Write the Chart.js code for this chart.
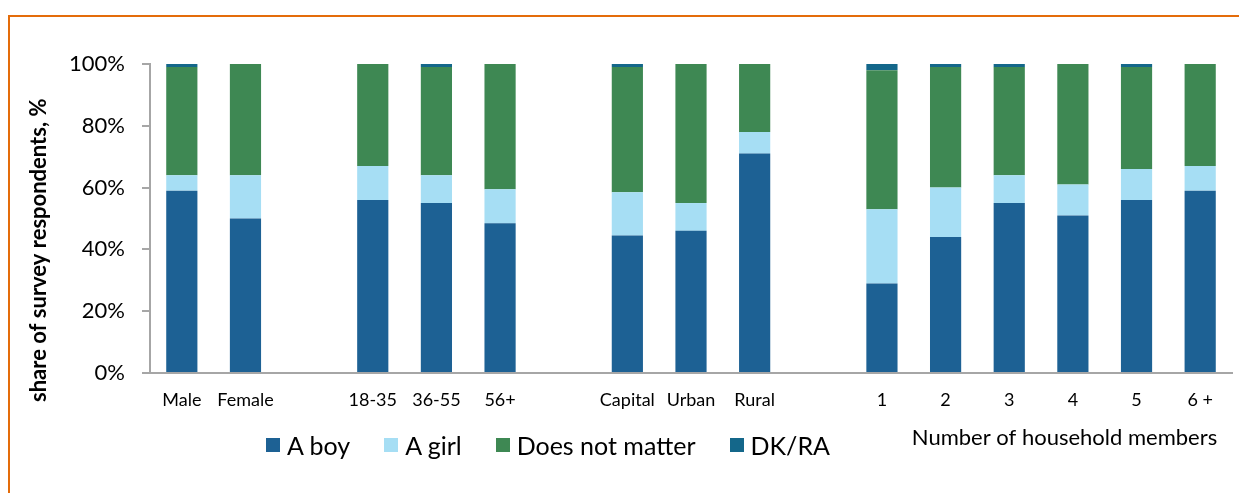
<!DOCTYPE html>
<html>
<head>
<meta charset="utf-8">
<script src="https://cdn.jsdelivr.net/npm/chart.js@4.4.1/dist/chart.umd.min.js"></script>
<style>
    body { margin: 0; background: #fff; font-family: Lato, sans-serif; }
    #frame {
        position: absolute; left: 8px; top: 15px; width: 1229px; height: 476px;
        border-top: 2px solid #E46C0A; border-left: 2px solid #E46C0A;
    }
    #legend {
        position: absolute; left: 266px; top: 430px; display: flex; align-items: center;
        font-size: 25px; color: #000;
    }
    #legend .item { display: flex; align-items: center; margin-right: 34px; }
    #legend .box { width: 14px; height: 14px; margin-right: 7px; }
</style>
</head>
<body>
<div id="frame"><canvas id="chart" width="1229" height="476"></canvas></div>
<div id="legend"></div>
<script>
// categories (empty strings are the gaps between groups)
const categories = ['Male', 'Female', '', '18-35', '36-55', '56+', '', 'Capital', 'Urban', 'Rural', '', '1', '2', '3', '4', '5', '6 +'];
const boy =          [59, 50, null, 56, 55, 48.5, null, 44.5, 46, 71, null, 29, 44, 55, 51, 56, 59];
const girl =         [5, 14, null, 11, 9, 11, null, 14, 9, 7, null, 24, 16, 9, 10, 10, 8];
const doesNotMatter = [35, 36, null, 33, 35, 40.5, null, 40.5, 45, 22, null, 45, 39, 35, 39, 33, 33];
const dkRa =         [1, 0, null, 0, 1, 0, null, 1, 0, 0, null, 2, 1, 1, 0, 1, 0];
const yTicks = [0, 20, 40, 60, 80, 100];
const groupLabel = 'Number of household members';
const yTitle = 'share of survey respondents, %';

const seriesNames = ['A boy', 'A girl', 'Does not matter', 'DK/RA'];
const seriesColors = ['#1D6194', '#A6DEF4', '#3E8853', '#14678A'];
const seriesData = [boy, girl, doesNotMatter, dkRa];

// caption under the household columns + y title (it sits lower than the axis middle)
const extraText = {
    id: 'extraText',
    afterDraw(chart) {
        const ctx = chart.ctx;
        const x = chart.scales.x;
        const y = chart.scales.y;
        ctx.save();
        ctx.fillStyle = '#000';
        ctx.font = '22px Lato';
        ctx.textAlign = 'right';
        ctx.textBaseline = 'middle';
        ctx.fillText(groupLabel, x.getPixelForValue(categories.length - 1) + 17, 421);

        ctx.translate(29, y.bottom + 29);
        ctx.rotate(-Math.PI / 2);
        ctx.font = 'bold 22px Lato';
        ctx.textAlign = 'left';
        ctx.fillText(yTitle, 0, 0);
        ctx.restore();
    }
};

const chart = new Chart(document.getElementById('chart'), {
    type: 'bar',
    data: {
        labels: categories,
        datasets: seriesNames.map((name, i) => ({
            label: name,
            data: seriesData[i],
            backgroundColor: seriesColors[i],
            borderWidth: 0,
            categoryPercentage: 1,
            barPercentage: 0.49
        }))
    },
    plugins: [extraText],
    options: {
        responsive: false,
        animation: false,
        layout: { padding: { left: 8, top: 47, right: 7, bottom: 0 } },
        plugins: {
            legend: { display: false },
            tooltip: { enabled: false }
        },
        scales: {
            x: {
                stacked: true,
                grid: { display: false },
                border: { color: '#A6A6A6', width: 2 },
                ticks: { color: '#000', font: { family: 'Lato', size: 18 }, padding: 8, maxRotation: 0, autoSkip: false },
                afterFit: s => { s.height = 120; }
            },
            y: {
                stacked: true,
                min: 0,
                max: 100,
                afterBuildTicks: s => { s.ticks = yTicks.map(v => ({ value: v })); },
                grid: { drawOnChartArea: false, color: '#A6A6A6', tickLength: 8, lineWidth: 2 },
                border: { color: '#A6A6A6', width: 2 },
                ticks: { color: '#000', font: { family: 'Lato', size: 22 }, padding: 17, callback: v => v + '%' },
                afterFit: s => { s.width = 132; }
            }
        }
    }
});

// legend built from the datasets
const legend = document.getElementById('legend');
chart.data.datasets.forEach(ds => {
    const item = document.createElement('div');
    item.className = 'item';
    const box = document.createElement('span');
    box.className = 'box';
    box.style.background = ds.backgroundColor;
    item.appendChild(box);
    item.appendChild(document.createTextNode(ds.label));
    legend.appendChild(item);
});
</script>
</body>
</html>
